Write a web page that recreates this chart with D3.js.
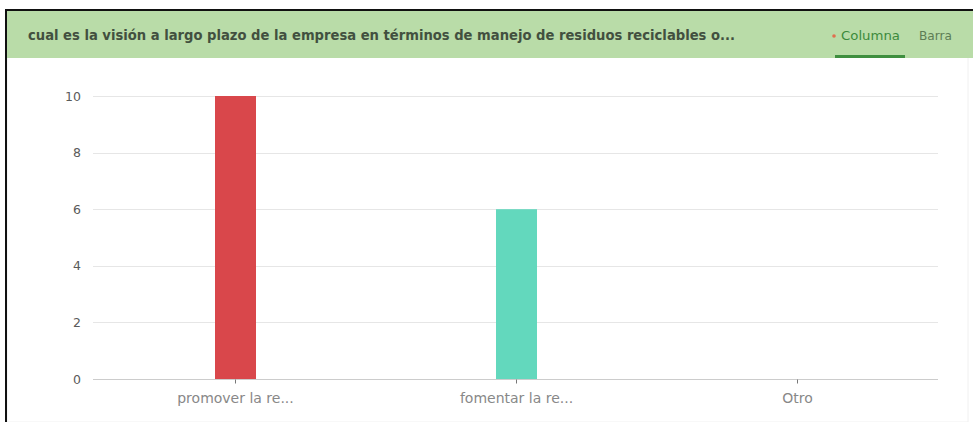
<!DOCTYPE html>
<html>
<head>
<meta charset="utf-8">
<script src="https://cdn.jsdelivr.net/npm/d3@7"></script>
<style>
  html, body { margin: 0; padding: 0; background: #ffffff; }
  svg { display: block; }
</style>
</head>
<body>
<svg id="chart" width="973" height="422"></svg>
<script>
// Survey answers: one column per answer option
const categories = ["promover la re...", "fomentar la re...", "Otro"];
const counts = [10, 6, 0];
const barColors = ["#d9474b", "#63d8bd", "#9c9c9c"];
const yTicks = [0, 2, 4, 6, 8, 10];
const title = "cual es la visión a largo plazo de la empresa en términos de manejo de residuos reciclables o...";
const tabs = ["Columna", "Barra"];

const svg = d3.select("#chart");
const W = 973, H = 422;
const font = "'DejaVu Sans', Lato, sans-serif";

// frame
svg.append("rect").attr("x", 0).attr("y", 0).attr("width", W).attr("height", H).attr("fill", "#ffffff");
svg.append("rect").attr("x", 7).attr("y", 10).attr("width", W - 12).attr("height", H - 10)
  .attr("fill", "#ffffff").attr("stroke", "#f0f0f0");

// header band
svg.append("rect").attr("x", 7).attr("y", 11).attr("width", W - 7).attr("height", 47).attr("fill", "#b9dca8");
svg.append("line").attr("x1", 6).attr("x2", W).attr("y1", 10).attr("y2", 10).attr("stroke", "#111").attr("stroke-width", 2);
svg.append("line").attr("x1", 6).attr("x2", 6).attr("y1", 9).attr("y2", H).attr("stroke", "#111").attr("stroke-width", 2);

svg.append("text").attr("x", 28).attr("y", 40)
  .attr("font-family", font).attr("font-size", 13.5).attr("font-weight", 700)
  .attr("textLength", 707).attr("lengthAdjust", "spacingAndGlyphs")
  .attr("fill", "#42503f").text(title);

svg.append("circle").attr("cx", 834).attr("cy", 36).attr("r", 1.8).attr("fill", "#e0704f");
svg.append("text").attr("x", 841).attr("y", 40)
  .attr("font-family", font).attr("font-size", 11.5).attr("fill", "#3c8a3c")
  .attr("textLength", 59).attr("lengthAdjust", "spacingAndGlyphs").text(tabs[0]);
svg.append("text").attr("x", 919).attr("y", 40)
  .attr("font-family", font).attr("font-size", 11.5).attr("fill", "#5d7d55")
  .attr("textLength", 33).attr("lengthAdjust", "spacingAndGlyphs").text(tabs[1]);
svg.append("rect").attr("x", 835).attr("y", 55).attr("width", 70).attr("height", 3).attr("fill", "#3f8f3f");

// plot area
const margin = { left: 95, right: 35, top: 96, bottom: 43 };
const x = d3.scaleBand().domain(categories).range([margin.left, W - margin.right]).paddingInner(0).paddingOuter(0);
const y = d3.scaleLinear().domain([0, 10]).range([H - margin.bottom, margin.top]);

// gridlines
svg.append("g").selectAll("line").data(yTicks.filter(d => d > 0)).join("line")
  .attr("x1", margin.left - 2).attr("x2", W - margin.right)
  .attr("y1", d => Math.round(y(d)) + 0.5).attr("y2", d => Math.round(y(d)) + 0.5)
  .attr("stroke", "#e6e6e6").attr("stroke-width", 1);

// y axis labels
const yAxis = d3.axisLeft(y).tickValues(yTicks).tickSize(0).tickPadding(14);
const gy = svg.append("g").attr("transform", `translate(${margin.left},0)`).call(yAxis);
gy.select(".domain").remove();
gy.selectAll("text").attr("font-family", font).attr("font-size", 12.5).attr("fill", "#5a5a5a");

// bars
const bw = 41;
svg.append("g").selectAll("rect").data(categories).join("rect")
  .attr("x", d => x(d) + x.bandwidth() / 2 - bw / 2)
  .attr("y", (d, i) => y(counts[i]))
  .attr("width", bw)
  .attr("height", (d, i) => y(0) - y(counts[i]))
  .attr("fill", (d, i) => barColors[i]);

// x axis
const xAxis = d3.axisBottom(x).tickSize(4).tickPadding(10);
const gx = svg.append("g").attr("transform", `translate(0,${Math.round(y(0)) + 0.5})`).call(xAxis);
gx.select(".domain").attr("stroke", "#cccccc").attr("d", `M${margin.left - 2},0H${W - margin.right}`);
gx.selectAll(".tick line").attr("stroke", "#777");
gx.selectAll("text").attr("font-family", font).attr("font-size", 14).attr("fill", "#888");
</script>
</body>
</html>
